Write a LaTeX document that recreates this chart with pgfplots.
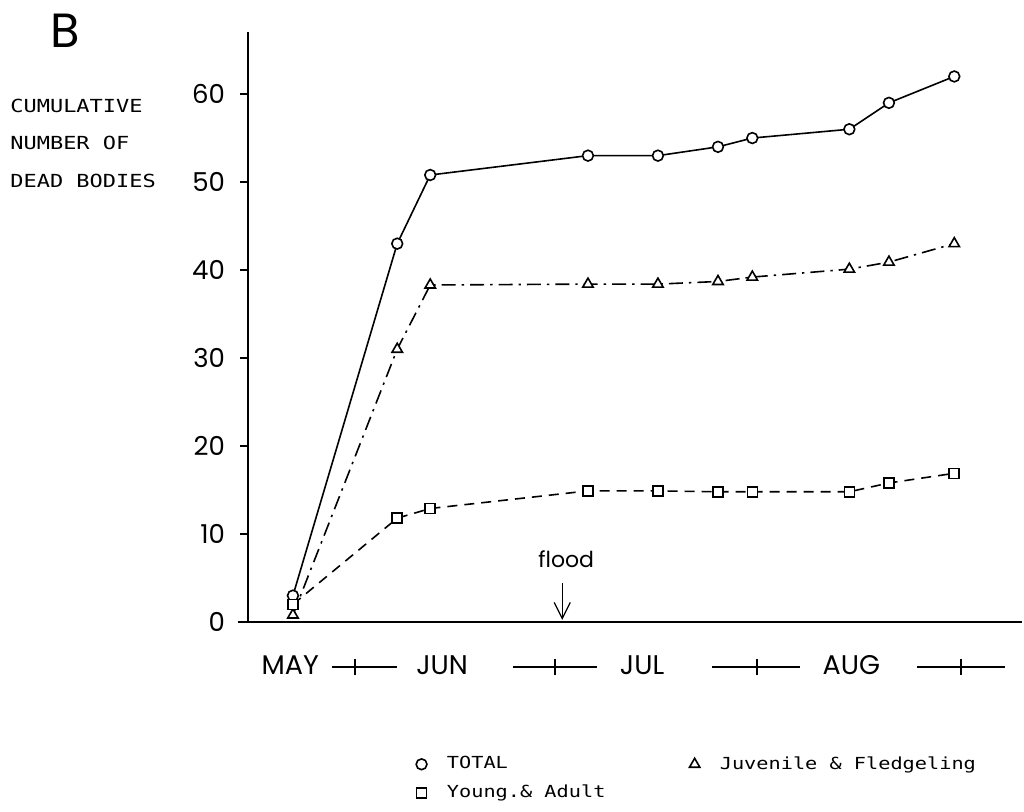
\documentclass[border=0pt]{standalone}
\usepackage{fontspec}
\usepackage{pgfplots}
\pgfplotsset{compat=1.18}
\usetikzlibrary{arrows.meta}
\newfontfamily\pfont{Poppins}
\newfontfamily\tfont[FakeStretch=1.22]{DejaVu Sans Mono}

\pgfplotstableread{
x     total juv  young
21.9  3.0   0.8  2.0
37.7  43.0  31.0 11.8
42.7  50.8  38.3 12.9
66.6  53.0  38.4 14.9
77.2  53.0  38.4 14.9
86.3  54.0  38.7 14.8
91.5  55.0  39.2 14.8
106.2 56.0  40.1 14.8
112.2 59.0  40.9 15.8
122.1 62.0  43.0 16.9
}\deadtable

\begin{document}
\begin{tikzpicture}
\useasboundingbox (0,0) rectangle (512pt,-405.5pt);
\node[anchor=base west, font=\pfont\fontsize{24}{24}\selectfont, inner sep=0pt] at (25pt,-23.5pt) {B};
\begin{axis}[
  at={(124pt,-311pt)}, anchor=south west,
  scale only axis, width=387pt, height=295pt,
  xmin=15.09, xmax=132.36, ymin=0, ymax=67.05,
  axis lines=left, axis line style={-, line width=0.8pt},
  xtick=\empty, ytick={0,10,...,60},
  tick align=outside, major tick length=4pt,
  tick style={line width=0.7pt, black},
  yticklabel style={font=\pfont\fontsize{13}{14}\selectfont, xshift=-4pt},
  /pgf/number format/assume math mode=true,
  clip=false,
  ylabel={CUMULATIVE\\NUMBER OF\\DEAD BODIES},
  ylabel style={rotate=-90, align=left, anchor=north west,
    at={(axis description cs:-0.3075,0.887)},
    font=\tfont\fontsize{9}{18.75}\selectfont, inner sep=0pt},
  legend columns=2,
  legend cell align=left,
  legend style={at={(axis description cs:0.209,-0.2136)}, anchor=north west,
    draw=none, fill=none, font=\tfont\fontsize{8.3}{9}\selectfont,
    row sep=2.5pt,
    /tikz/every odd column/.append style={column sep=8pt},
    /tikz/every even column/.append style={column sep=40pt}},
  legend image code/.code={\draw[only marks] plot coordinates {(0.15cm,0cm)};},
]
\addplot[black, line width=0.8pt, mark=*, mark size=2.7pt, mark options={solid, fill=white}]
  table[x=x, y=total] {\deadtable};
\addlegendentry{TOTAL}
\addplot[black, line width=0.8pt, dash pattern=on 7pt off 3pt on 1.2pt off 3pt,
  mark=triangle*, mark size=3pt, mark options={solid, fill=white}]
  table[x=x, y=juv] {\deadtable};
\addlegendentry{Juvenile \& Fledgeling}
\addplot[black, line width=0.8pt, dash pattern=on 5pt off 3.5pt,
  mark=square*, mark size=2.5pt, mark options={solid, fill=white}]
  table[x=x, y=young] {\deadtable};
\addlegendentry{Young.\& Adult}

% extension of x axis line to the left
\draw[line width=0.8pt] (axis cs:13.5,0) -- (axis cs:15.09,0);

% month row
\node[font=\pfont\fontsize{13.5}{14}\selectfont] at (axis cs:21.5,-4.9) {MAY};
\node[font=\pfont\fontsize{13.5}{14}\selectfont] at (axis cs:44.5,-4.9) {JUN};
\node[font=\pfont\fontsize{13.5}{14}\selectfont] at (axis cs:74.8,-4.9) {JUL};
\node[font=\pfont\fontsize{13.5}{14}\selectfont] at (axis cs:106.5,-4.9) {AUG};
\draw[line width=0.7pt] (axis cs:27.8,-5.1) -- (axis cs:37.7,-5.1) (axis cs:31.3,-4.2) -- (axis cs:31.3,-6.0);
\draw[line width=0.7pt] (axis cs:55.2,-5.1) -- (axis cs:68.0,-5.1) (axis cs:61.6,-4.2) -- (axis cs:61.6,-6.0);
\draw[line width=0.7pt] (axis cs:85.4,-5.1) -- (axis cs:98.7,-5.1) (axis cs:92.2,-4.2) -- (axis cs:92.2,-6.0);
\draw[line width=0.7pt] (axis cs:116.5,-5.1) -- (axis cs:129.8,-5.1) (axis cs:123.1,-4.2) -- (axis cs:123.1,-6.0);

% flood
\draw[-{Straight Barb[length=8pt,width=8pt]}, line width=0.6pt] (axis cs:62.7,4.4) -- (axis cs:62.7,0.25);
\node[font=\pfont\fontsize{11}{12}\selectfont] at (axis cs:63.3,7.1) {flood};
\end{axis}
\end{tikzpicture}
\end{document}
